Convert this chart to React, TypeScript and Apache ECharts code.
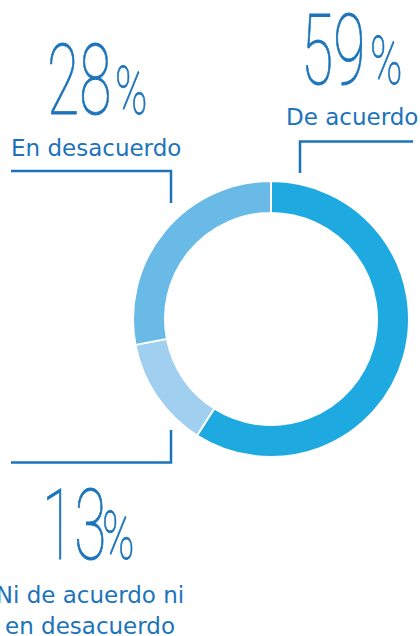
import React, { useEffect, useRef } from "react";
import * as echarts from "echarts";

const categories = ["De acuerdo", "Ni de acuerdo ni\nen desacuerdo", "En desacuerdo"];
const values = [59, 13, 28];
const sliceColors = ["#1eaae1", "#a0cff0", "#6abae7"];

const TEXT_BLUE = "#1b74bb";

// layout for each label block (number x, number mid y, % x, % mid y, label x, label y, align)
const labelLayout = [
  { nx: 301, ny: 51, px: 370, py: 62, lx: 286, ly: 117, align: "left" },
  { nx: 42, ny: 526, px: 102, py: 537, lx: 90, ly: 610.5, align: "center" },
  { nx: 47, ny: 81, px: 115, py: 92, lx: 11, ly: 148, align: "left" },
];

const leaderLines = [
  [[300, 173], [300, 141.5], [413, 141.5]],
  [[171, 430], [171, 462.5], [11, 462.5]],
  [[11, 171], [171, 171], [171, 203]],
];

export default function App() {
  const ref = useRef<HTMLDivElement>(null);
  useEffect(() => {
    document.body.style.margin = "0";
    if (!ref.current) return;
    const chart = echarts.init(ref.current, null, { renderer: "svg" });
    const graphic: any[] = [];
    values.forEach((v, i) => {
      const L = labelLayout[i];
      graphic.push({
        type: "text",
        x: L.nx,
        y: L.ny,
        scaleX: 0.6,
        style: {
          text: String(v),
          fontFamily: "Roboto",
          fontWeight: 100,
          fontSize: 98,
          fill: TEXT_BLUE,
          stroke: TEXT_BLUE,
          lineWidth: 0.9,
          align: "left",
          verticalAlign: "middle",
        },
      });
      graphic.push({
        type: "text",
        x: L.px,
        y: L.py,
        scaleX: 0.66,
        style: {
          text: "%",
          fontFamily: "Roboto",
          fontWeight: 100,
          fontSize: 66,
          fill: TEXT_BLUE,
          stroke: TEXT_BLUE,
          lineWidth: 0.8,
          align: "left",
          verticalAlign: "middle",
        },
      });
      graphic.push({
        type: "text",
        x: L.lx,
        y: L.ly,
        style: {
          text: categories[i],
          fontFamily: "DejaVu Sans",
          fontSize: 23,
          lineHeight: 31,
          fill: TEXT_BLUE,
          align: L.align,
          verticalAlign: "middle",
        },
      });
      graphic.push({
        type: "polyline",
        shape: { points: leaderLines[i] },
        style: { stroke: TEXT_BLUE, lineWidth: 2.5, fill: null },
      });
    });

    chart.setOption({
      animation: false,
      series: [
        {
          type: "pie",
          center: [271, 319],
          radius: [106, 138],
          startAngle: 90,
          clockwise: true,
          silent: true,
          label: { show: false },
          labelLine: { show: false },
          itemStyle: { borderColor: "#ffffff", borderWidth: 2 },
          data: values.map((v, i) => ({
            value: v,
            name: categories[i],
            itemStyle: { color: sliceColors[i] },
          })),
        },
      ],
      graphic,
    });
    return () => chart.dispose();
  }, []);
  return <div ref={ref} style={{ width: 420, height: 636 }} />;
}
